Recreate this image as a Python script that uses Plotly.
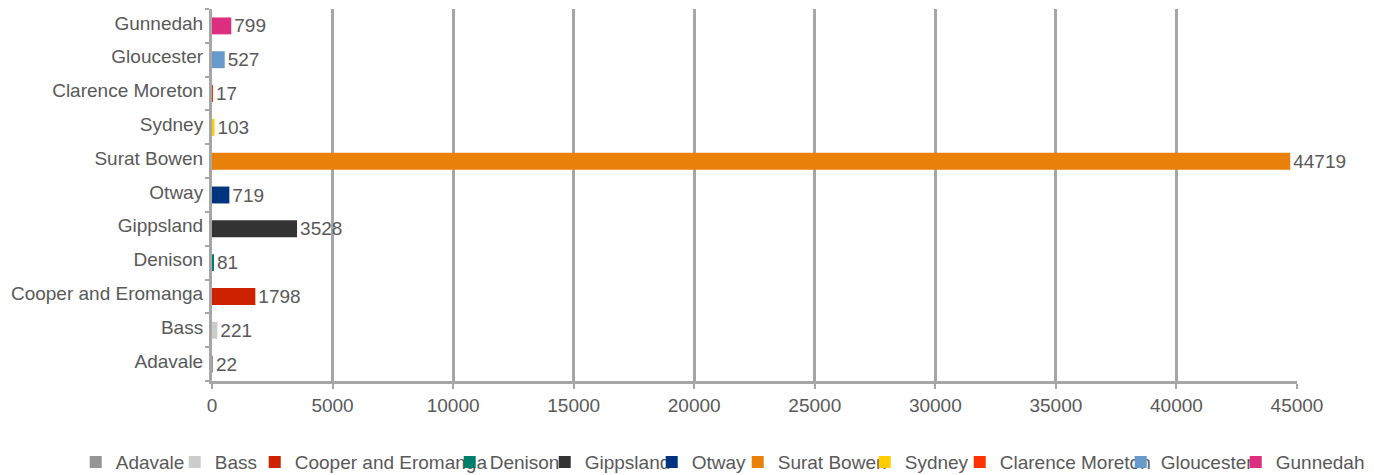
import plotly.graph_objects as go

# Coal seam gas basins and their reported values
basins = [
    "Adavale", "Bass", "Cooper and Eromanga", "Denison", "Gippsland", "Otway",
    "Surat Bowen", "Sydney", "Clarence Moreton", "Gloucester", "Gunnedah",
]
values = [22, 221, 1798, 81, 3528, 719, 44719, 103, 17, 527, 799]
colors = [
    "#969696", "#cccccc", "#cc2200", "#00806a", "#333333", "#003380",
    "#e8800a", "#ffcc00", "#ff3300", "#6699cc", "#dd2e80",
]
# horizontal room reserved for each legend entry (px)
legend_widths = [54, 35, 150, 50, 62, 41, 82, 50, 116, 70, 90]

x_ticks = [0, 5000, 10000, 15000, 20000, 25000, 30000, 35000, 40000, 45000]

TEXT = "#595959"
GRID = "#a6a6a6"
FONT = "Liberation Sans, Arial, sans-serif"
SIZE = 19

fig = go.Figure()
for name, val, col, lw in zip(basins, values, colors, legend_widths):
    fig.add_trace(go.Bar(
        y=[name], x=[val], orientation="h", name=name,
        marker=dict(color=col, line=dict(width=0)),
        width=0.5,
        text=[str(val)], textposition="outside",
        textfont=dict(color=TEXT, size=SIZE, family=FONT),
        constraintext="none", cliponaxis=False,
        legendwidth=lw,
    ))

fig.update_layout(
    width=1374, height=475,
    margin=dict(l=212, r=77, t=9, b=94, autoexpand=False),
    paper_bgcolor="white", plot_bgcolor="white",
    barmode="overlay",
    font=dict(family=FONT, size=SIZE, color=TEXT),
    showlegend=True,
    legend=dict(
        orientation="h", x=-0.1256, xanchor="left", y=-0.218, yanchor="middle",
        font=dict(size=SIZE, color=TEXT), traceorder="normal",
        itemwidth=30, tracegroupgap=0, bgcolor="rgba(0,0,0,0)",
    ),
    xaxis=dict(
        range=[0, 45000], tickvals=x_ticks, ticktext=[str(t) for t in x_ticks],
        showgrid=True, gridcolor=GRID, gridwidth=3,
        zeroline=False, showline=True, linecolor=GRID, linewidth=3,
        ticks="outside", ticklen=5, tickwidth=2, tickcolor=GRID,
        ticklabelstandoff=0,
        tickfont=dict(size=SIZE, color=TEXT),
    ),
    yaxis=dict(
        categoryorder="array", categoryarray=basins,
        showgrid=False, zeroline=False,
        showline=True, linecolor=GRID, linewidth=3,
        ticks="outside", tickson="boundaries", ticklen=4, tickwidth=2,
        tickcolor=GRID,
        ticklabelstandoff=2, ticklabelshift=-3,
        tickfont=dict(size=SIZE, color=TEXT),
    ),
)

fig.write_html("out.html")
